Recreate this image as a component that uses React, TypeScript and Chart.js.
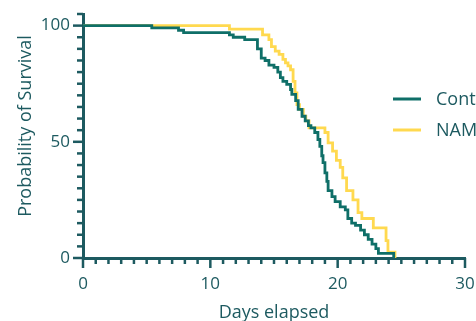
import React, { useEffect, useRef } from "react";
import { Chart, registerables } from "chart.js";

Chart.register(...registerables);

// ---- Data (Kaplan-Meier steps: day of event, survival % after event) ----
const seriesNames = ["Cont", "NAM"];
const contDays = [0, 5.4, 7.5, 7.9, 11.5, 11.8, 12.7, 13.7, 14.0, 14.3, 14.6, 15.0, 15.3, 15.5, 15.7, 16.0, 16.3, 16.4, 16.7, 16.9, 17.2, 17.45, 17.7, 17.9, 18.2, 18.45, 18.6, 18.75, 18.85, 19.0, 19.15, 19.25, 19.55, 19.8, 20.2, 20.6, 20.8, 21.1, 21.4, 21.8, 22.1, 22.4, 22.7, 23.0, 23.2, 24.4];
const contSurvival = [100, 99, 98, 97, 96, 95, 94, 90, 86, 85, 83, 82, 80, 77.6, 76, 74.7, 72.5, 70.4, 67.7, 64, 61, 59, 57, 56, 54, 51, 48, 44, 41, 36.6, 33, 29, 26.4, 24.3, 22, 20.7, 17, 15, 14, 12, 10, 8, 6, 4, 2, 0];
const namDays = [0, 11.5, 14.1, 14.6, 14.8, 15.1, 15.4, 15.7, 15.9, 16.1, 16.3, 16.5, 16.65, 16.8, 17.0, 17.3, 17.5, 17.75, 19.0, 19.25, 19.6, 19.9, 20.2, 20.4, 20.7, 21.2, 21.6, 21.9, 22.8, 23.8, 23.95, 24.5];
const namSurvival = [100, 98.5, 96, 94, 91, 89, 87.6, 85.5, 84, 82.7, 81, 76, 71, 66, 64, 61, 59, 56, 54, 49.5, 46, 42, 39, 34.5, 29, 25, 19.5, 17, 13, 7.5, 2.5, 0];
const xTickValues = [0, 10, 20, 30];
const yTickValues = [0, 50, 100];
const xTitle = "Days elapsed";
const yTitle = "Probability of Survival";

const TEXT = "#1d5a60";
const AXIS = "#1d5a60";
const TEAL = "#0f6f68";
const YELLOW = "#ffd94f";
const FONT = "'Open Sans', sans-serif";

const toPoints = (xs: number[], ys: number[]) => xs.map((x, i) => ({ x, y: ys[i] }));

const zeroPad = (s: any) => {
  s.paddingTop = 0;
  s.paddingBottom = 0;
  s.paddingLeft = 0;
  s.paddingRight = 0;
};

const decorPlugin = {
  id: "decor",
  afterDraw(chart: any) {
    const { ctx, scales, chartArea } = chart;
    const xs = scales.x;
    const ys = scales.y;
    ctx.save();
    ctx.strokeStyle = AXIS;
    ctx.lineWidth = 2.5;
    ctx.lineCap = "butt";
    for (let v = 0; v <= 30; v += 1) {
      const px = xs.getPixelForValue(v);
      const len = v % 10 === 0 ? 10 : 6;
      ctx.beginPath();
      ctx.moveTo(px, chartArea.bottom);
      ctx.lineTo(px, chartArea.bottom + len);
      ctx.stroke();
    }
    for (let v = 0; v <= 105; v += 5) {
      const py = ys.getPixelForValue(v);
      const len = v % 50 === 0 ? 10 : 6;
      ctx.beginPath();
      ctx.moveTo(chartArea.left - len, py);
      ctx.lineTo(chartArea.left, py);
      ctx.stroke();
    }
    ctx.fillStyle = TEXT;
    ctx.font = `18px ${FONT}`;
    ctx.textAlign = "center";
    ctx.textBaseline = "alphabetic";
    ctx.fillText(xTitle, (chartArea.left + chartArea.right) / 2, 318);
    ctx.save();
    ctx.translate(31, 126);
    ctx.rotate(-Math.PI / 2);
    ctx.fillText(yTitle, 0, 0);
    ctx.restore();
    const colors = [TEAL, YELLOW];
    const rows = [99, 130];
    seriesNames.forEach((name, i) => {
      ctx.strokeStyle = colors[i];
      ctx.lineWidth = 3;
      ctx.beginPath();
      ctx.moveTo(393, rows[i]);
      ctx.lineTo(421, rows[i]);
      ctx.stroke();
      ctx.fillStyle = TEXT;
      ctx.textAlign = "left";
      ctx.textBaseline = "middle";
      ctx.fillText(name, 436, rows[i] + 1);
    });
    ctx.restore();
  },
};

export default function App() {
  const ref = useRef<HTMLCanvasElement>(null);
  useEffect(() => {
    document.body.style.margin = "0";
    const chart = new Chart(ref.current as HTMLCanvasElement, {
      type: "line",
      data: {
        datasets: [
          {
            label: seriesNames[0],
            data: toPoints(contDays, contSurvival),
            borderColor: TEAL,
            borderWidth: 2.8,
            stepped: true,
            pointRadius: 0,
            fill: false,
          },
          {
            label: seriesNames[1],
            data: toPoints(namDays, namSurvival),
            borderColor: YELLOW,
            borderWidth: 2.8,
            stepped: true,
            pointRadius: 0,
            fill: false,
          },
        ],
      },
      options: {
        responsive: false,
        animation: false,
        layout: { padding: { top: 14, right: 11, left: 0, bottom: 0 } },
        plugins: { legend: { display: false }, tooltip: { enabled: false } },
        scales: {
          x: {
            type: "linear",
            min: 0,
            max: 30,
            afterBuildTicks: (s: any) => {
              s.ticks = xTickValues.map((v) => ({ value: v }));
            },
            afterFit: (s: any) => {
              s.height = 63;
              zeroPad(s);
            },
            ticks: { color: TEXT, font: { family: FONT, size: 17 }, padding: 16, maxRotation: 0 },
            grid: { display: true, drawOnChartArea: false, drawTicks: false },
            border: { display: true, color: AXIS, width: 3 },
          },
          y: {
            type: "linear",
            min: 0,
            max: 105,
            afterBuildTicks: (s: any) => {
              s.ticks = yTickValues.map((v) => ({ value: v }));
            },
            afterFit: (s: any) => {
              s.width = 83;
              zeroPad(s);
            },
            ticks: { color: TEXT, font: { family: FONT, size: 17 }, padding: 13 },
            grid: { display: true, drawOnChartArea: false, drawTicks: false },
            border: { display: true, color: AXIS, width: 3 },
          },
        },
      },
      plugins: [decorPlugin],
    });
    return () => chart.destroy();
  }, []);
  return (
    <div style={{ width: 476, height: 321 }}>
      <canvas ref={ref} width={476} height={321} style={{ display: "block" }} />
    </div>
  );
}
